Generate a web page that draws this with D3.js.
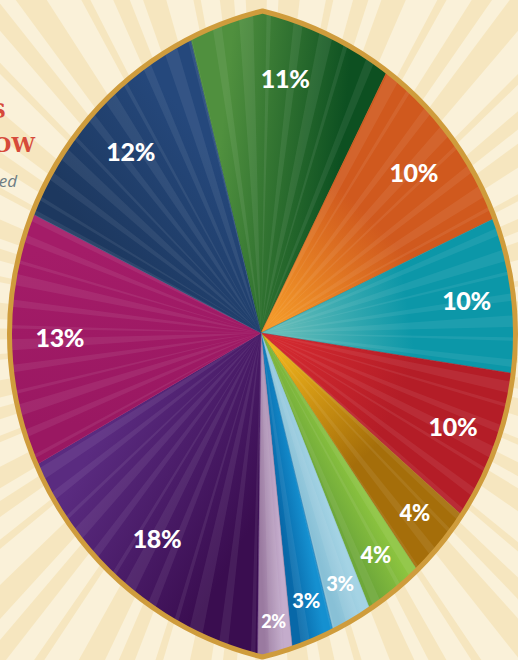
<!DOCTYPE html>
<html>
<head>
<meta charset="utf-8">
<script src="https://cdn.jsdelivr.net/npm/d3@7"></script>
<style>
  html, body { margin: 0; padding: 0; background: #f7eaca; overflow: hidden; }
  svg { display: block; }
</style>
</head>
<body>
<div class="chart"></div>
<script>
// Slice labels as printed, clockwise from the top green wedge.
const labels = ["11%", "10%", "10%", "10%", "4%", "4%", "3%", "3%", "2%", "18%", "13%", "12%"];
// Share of the circle each wedge actually covers in the picture (percent).
const drawnShare = [10.9, 10.6, 9.8, 9.2, 4.0, 3.3, 2.2, 2.2, 1.75, 16.4, 16.1, 13.6];
// Two colours per wedge and the direction the shading runs.
const colorA = ["#50903e", "#f39828", "#64bcb8", "#d42a30", "#f0b41c", "#8cc43f", "#a4d3e4", "#1590d0", "#c4accc", "#3a0d50", "#9a1862", "#1d385f"];
const colorB = ["#0d5021", "#d0591e", "#0c97a8", "#b41d27", "#a56e0a", "#6ea83a", "#88c0d6", "#0868a8", "#9a7aa0", "#5a2b80", "#a41c68", "#25487c"];
const shadeMode = ["angular", "radial", "radial", "radial", "radial", "angular", "angular", "angular", "angular", "angular", "angular", "angular"];
// Title fragments cut off by the left edge.
const titleBits = [
  { text: "S", x: 6, y: 118, cls: "red" },
  { text: "OW", x: 35, y: 152, cls: "red" },
  { text: "ed", x: 17, y: 187, cls: "grey" }
];

const width = 518, height = 660;
const center = { x: 261, y: 333 };
// Lens (two circle arcs) that frames the pie.
const lens = { cx: 262.5, cy: 334, halfH: 323, halfW: 253 };
lens.R = (lens.halfH * lens.halfH + lens.halfW * lens.halfW) / (2 * lens.halfW);
const startDeg = -13.5;

const svg = d3.select(".chart")
  .append("svg")
  .attr("width", width)
  .attr("height", height);
const defs = svg.append("defs");

// Background sunburst.
const bg = svg.append("g");
bg.append("rect").attr("width", width).attr("height", height).attr("fill", "#f6e6bf");
const rayArc = d3.arc().innerRadius(0).outerRadius(900);
const bgRays = d3.range(64).map(i => {
  const a = (i * 5.625 + 1) * Math.PI / 180;
  const w = (2 + 1.2 * ((i * 5) % 3)) * Math.PI / 180;
  return { startAngle: a, endAngle: a + w };
});
bg.selectAll("path.ray")
  .data(bgRays)
  .join("path")
  .attr("class", "ray")
  .attr("transform", `translate(${center.x},${center.y})`)
  .attr("d", rayArc)
  .attr("fill", "#faf1d9");

// Title fragments.
bg.selectAll("text.title")
  .data(titleBits)
  .join("text")
  .attr("class", "title")
  .attr("x", d => d.x)
  .attr("y", d => d.y)
  .attr("text-anchor", "end")
  .attr("font-family", d => d.cls === "red" ? "'DejaVu Serif', serif" : "'Open Sans', sans-serif")
  .attr("font-style", d => d.cls === "red" ? "normal" : "italic")
  .attr("font-weight", d => d.cls === "red" ? 700 : 400)
  .attr("font-size", d => d.cls === "red" ? 21 : 17)
  .attr("fill", d => d.cls === "red" ? "#d64a3a" : "#6e7d84")
  .text(d => d.text);

// Lens outline path.
function lensPath() {
  const top = [lens.cx, lens.cy - lens.halfH];
  const bot = [lens.cx, lens.cy + lens.halfH];
  return `M${top[0]},${top[1]} A${lens.R},${lens.R} 0 0 1 ${bot[0]},${bot[1]} ` +
         `A${lens.R},${lens.R} 0 0 1 ${top[0]},${top[1]} Z`;
}
defs.append("clipPath").attr("id", "lensClip")
  .append("path").attr("d", lensPath());

// Distance from the pie centre to the lens edge along an angle (0 = up, clockwise).
function edgeDist(theta) {
  const ux = Math.sin(theta), uy = -Math.cos(theta);
  const arcCx = ux >= 0 ? lens.cx + lens.halfW - lens.R : lens.cx - lens.halfW + lens.R;
  const dx = center.x - arcCx, dy = center.y - lens.cy;
  const b = dx * ux + dy * uy;
  const c = dx * dx + dy * dy - lens.R * lens.R;
  return -b + Math.sqrt(b * b - c);
}
// Point at angle a / radius r, relative to the pie centre.
const polar = (a, r) => [r * Math.sin(a), -r * Math.cos(a)];

const pie = d3.pie()
  .sort(null)
  .value(d => d)
  .startAngle(startDeg * Math.PI / 180)
  .endAngle((startDeg + 360) * Math.PI / 180);
const arcs = pie(drawnShare);

// One gradient per wedge (in the wedge group's own coordinates).
arcs.forEach((a, i) => {
  let p1, p2, stops;
  if (shadeMode[i] === "radial") {
    const m = (a.startAngle + a.endAngle) / 2;
    p1 = polar(m, 20);
    p2 = polar(m, edgeDist(m));
    stops = [[0, colorA[i]], [0.55, colorB[i]], [1, colorB[i]]];
  } else {
    p1 = polar(a.startAngle, 180);
    p2 = polar(a.endAngle, 180);
    stops = [[0, colorA[i]], [1, colorB[i]]];
  }
  const g = defs.append("linearGradient")
    .attr("id", "grad" + i)
    .attr("gradientUnits", "userSpaceOnUse")
    .attr("x1", p1[0]).attr("y1", p1[1])
    .attr("x2", p2[0]).attr("y2", p2[1]);
  stops.forEach(s => g.append("stop").attr("offset", s[0]).attr("stop-color", s[1]));
});

const pieGroup = svg.append("g").attr("clip-path", "url(#lensClip)");
const wedge = d3.arc().innerRadius(0).outerRadius(420);
pieGroup.append("g")
  .attr("transform", `translate(${center.x},${center.y})`)
  .selectAll("path")
  .data(arcs)
  .join("path")
  .attr("d", wedge)
  .attr("fill", (d, i) => `url(#grad${i})`)
  .attr("stroke", (d, i) => colorB[i])
  .attr("stroke-width", 0.5);

// Faint light stripes inside the pie.
const stripes = d3.range(72).map(i => {
  const a = (i * 5 + 1) * Math.PI / 180;
  const w = (0.8 + 0.9 * ((i * 7) % 3)) * Math.PI / 180;
  return { startAngle: a, endAngle: a + w };
});
pieGroup.append("g")
  .attr("transform", `translate(${center.x},${center.y})`)
  .selectAll("path")
  .data(stripes)
  .join("path")
  .attr("d", rayArc)
  .attr("fill", "#ffffff")
  .attr("opacity", 0.07);

// Lens border.
svg.append("path")
  .attr("d", lensPath())
  .attr("fill", "none")
  .attr("stroke", "#cf9c3c")
  .attr("stroke-width", 5)
  .attr("stroke-linejoin", "round");

// Labels: placed along the direction of the visible (clipped) wedge's centroid.
const labelK = d3.scaleLinear().domain([1.75, 2.2, 4, 12]).range([0.9, 0.872, 0.855, 0.8]).clamp(true);
const fontSize = d3.scaleLinear().domain([2, 3, 4, 10]).range([18, 20, 22, 25]).clamp(true);
function labelAngle(d) {
  let sx = 0, sy = 0;
  const n = 60;
  for (let k = 0; k <= n; k++) {
    const a = d.startAngle + (d.endAngle - d.startAngle) * k / n;
    const r = edgeDist(a);
    const w = r * r * r;
    sx += w * Math.sin(a);
    sy += w * Math.cos(a);
  }
  return Math.atan2(sx, sy);
}
const labelPos = d => {
  const m = labelAngle(d);
  const p = polar(m, labelK(d.data) * edgeDist(m));
  return [center.x + p[0], center.y + p[1]];
};
svg.append("g")
  .selectAll("text")
  .data(arcs)
  .join("text")
  .attr("x", d => labelPos(d)[0])
  .attr("y", d => labelPos(d)[1])
  .attr("dy", "0.34em")
  .attr("text-anchor", "middle")
  .attr("font-family", "Lato, 'Open Sans', sans-serif")
  .attr("font-weight", 900)
  .attr("font-size", (d, i) => fontSize(parseFloat(labels[i])))
  .attr("letter-spacing", "-0.3px")
  .attr("fill", "#ffffff")
  .text((d, i) => labels[i]);
</script>
</body>
</html>
